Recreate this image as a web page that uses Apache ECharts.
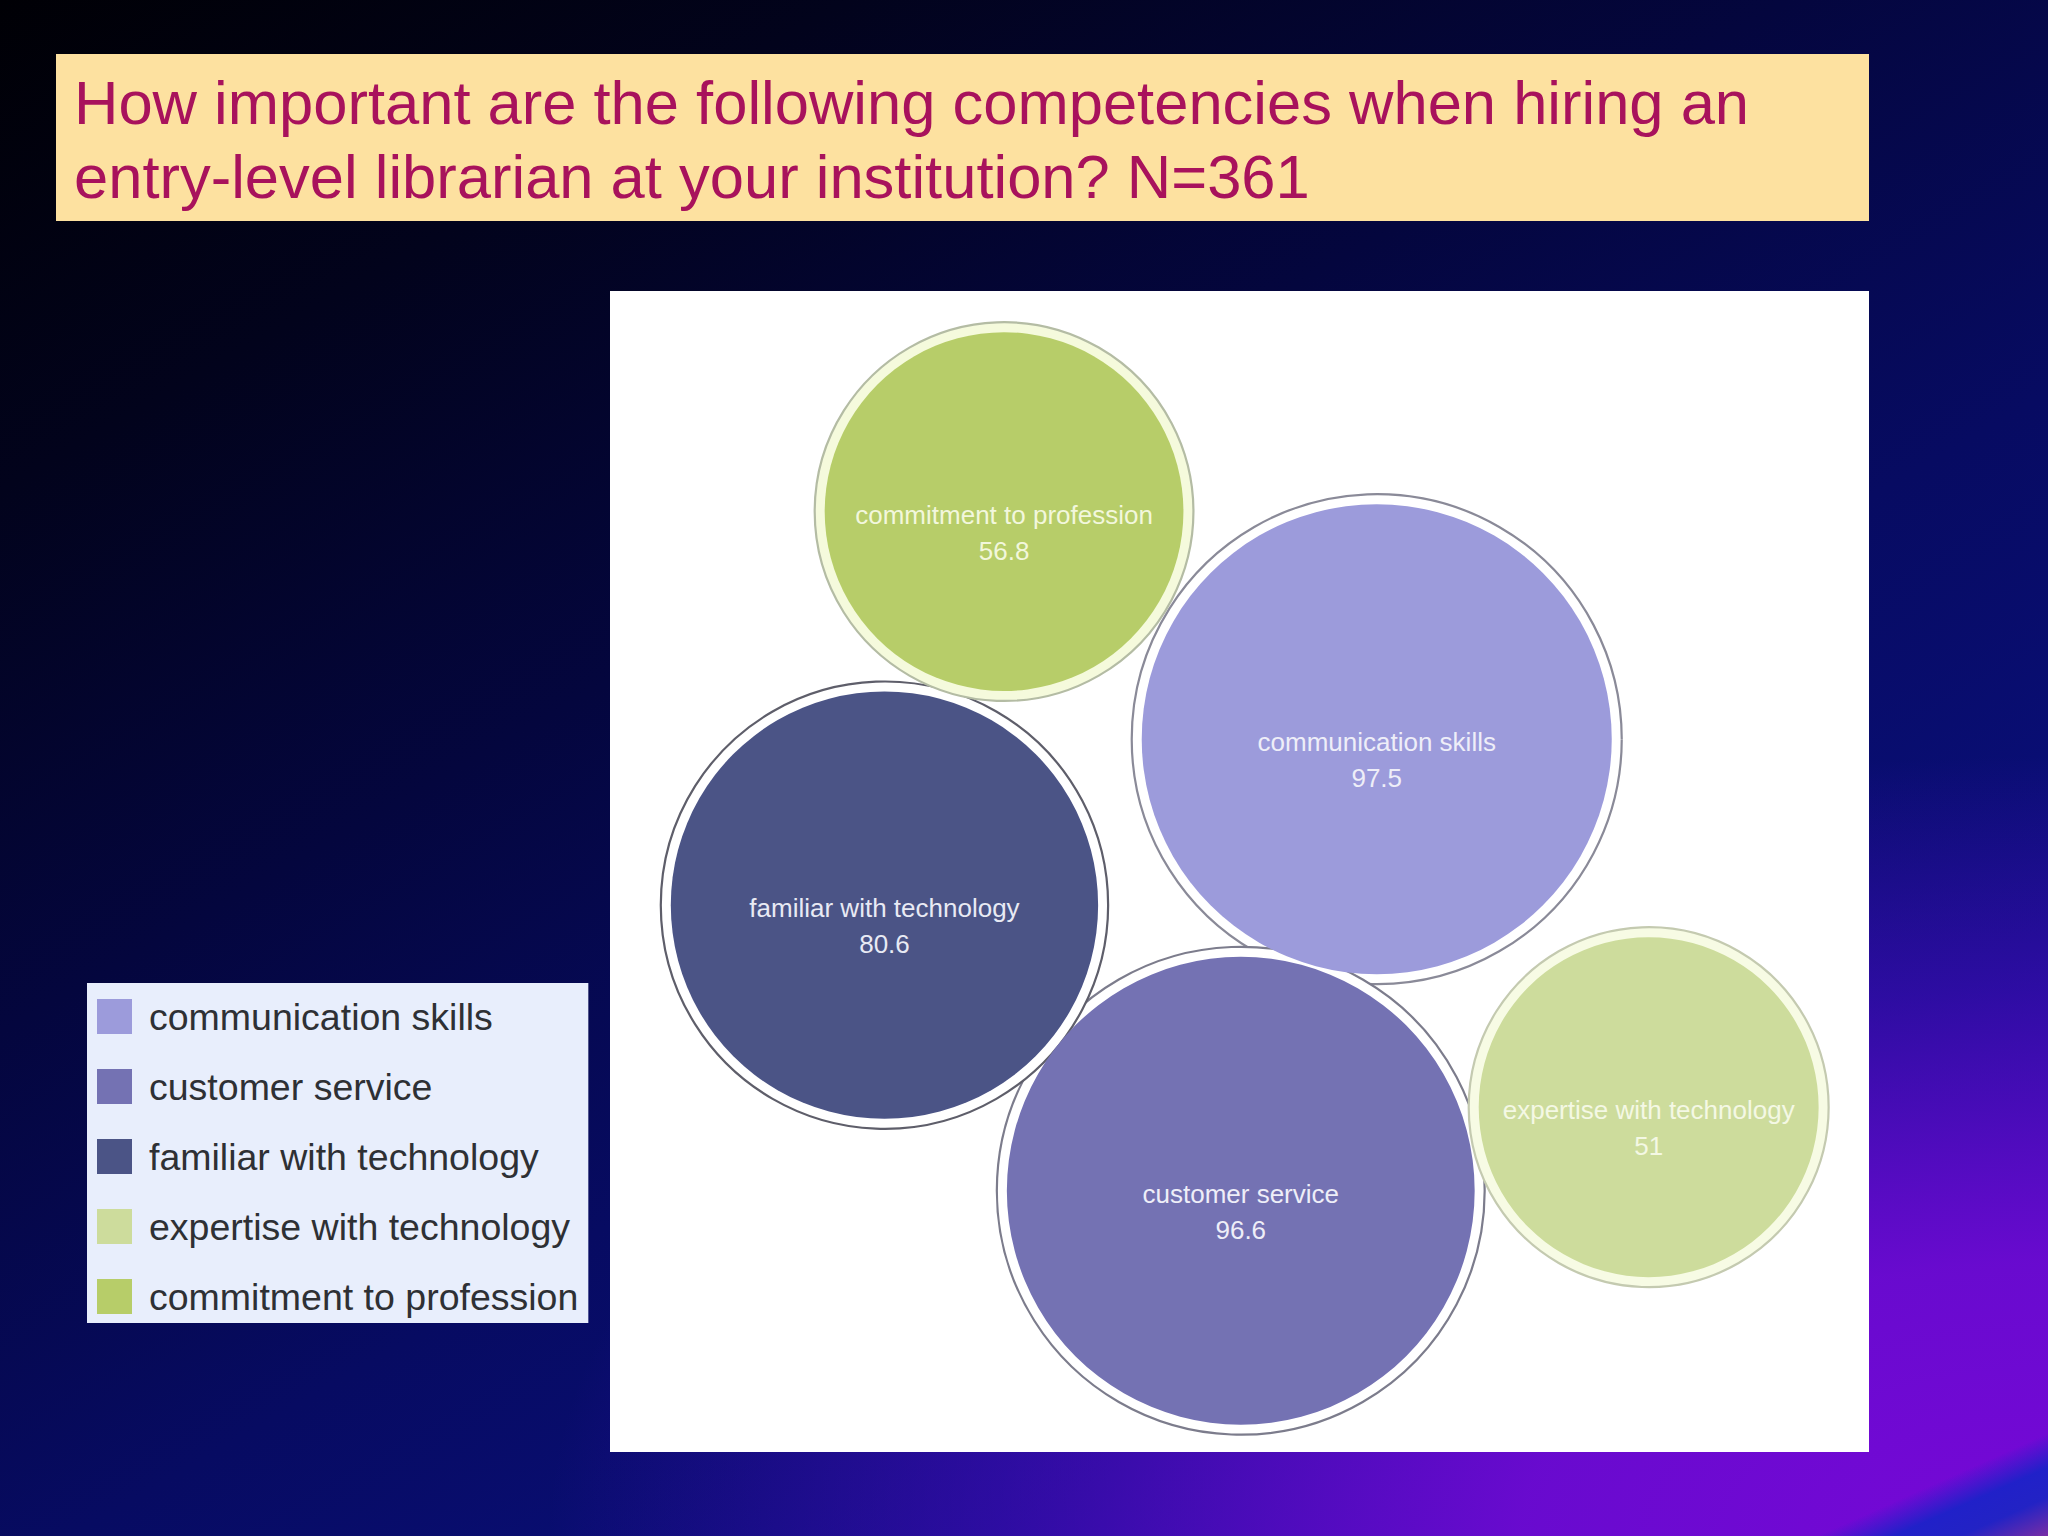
<!DOCTYPE html>
<html>
<head>
<meta charset="utf-8">
<script src="https://cdn.jsdelivr.net/npm/echarts@6/dist/echarts.min.js"></script>
<style>
  html, body { margin: 0; padding: 0; width: 2048px; height: 1536px; overflow: hidden; }
  body {
    background:
      linear-gradient(156deg, rgba(0,0,0,0) 95.8%, rgba(28,34,200,0.95) 97.2%, rgba(30,36,196,0.95) 98.4%, rgba(120,50,160,0.9) 100%),
      radial-gradient(ellipse 1500px 780px at 100% 100%, rgba(118,8,214,1) 0%, rgba(112,10,212,0.92) 35%, rgba(80,10,200,0.5) 70%, rgba(40,10,170,0) 100%),
      linear-gradient(150deg, #000005 0%, #02031c 18%, #04063e 38%, #070b62 58%, #0a0f7c 78%, #1a10a8 100%);
  }
  #chart { width: 2048px; height: 1536px; }
</style>
</head>
<body>
<div id="chart"></div>
<script>
// ---- data ----
const categories = ['communication skills', 'customer service', 'familiar with technology', 'expertise with technology', 'commitment to profession'];
const values = [97.5, 96.6, 80.6, 51, 56.8];
// bubble centre positions (percent of the plot panel)
const xPos = [60.9, 50.1, 21.8, 82.5, 31.3];
const yPos = [61.4, 22.5, 47.1, 29.7, 81.0];
const titleLines = ['How important are the following competencies when hiring an', 'entry-level librarian at your institution? N=361'];

// ---- styles ----
const fillColors = ['#9c9bdb', '#7472b3', '#4b5486', '#cddc9c', '#b7cd69'];
const haloFills = ['#ffffff', '#ffffff', '#ffffff', '#f7fbe4', '#f5fadc'];
const ringColors = ['#8a8a98', '#7c7c8c', '#5e5e6a', '#c4cab0', '#b4bca4'];
const labelColors = ['#eeeef8', '#eeeef8', '#e8eaf4', '#f4f8e4', '#f2f7dc'];
const K = 23.8;      // px per sqrt(value) -> bubble radius (area proportional)
const GAP = 10;      // halo ring gap

const chart = echarts.init(document.getElementById('chart'), null, { renderer: 'svg' });

const series = [];
categories.forEach((c, i) => {
  series.push({
    type: 'scatter',
    name: '__ring' + i,
    silent: true,
    z: 1,
    data: [[xPos[i], yPos[i], values[i]]],
    symbolSize: d => 2 * (K * Math.sqrt(d[2]) + GAP),
    itemStyle: { color: haloFills[i], borderColor: ringColors[i], borderWidth: 2.2, opacity: 1 },
    emphasis: { disabled: true }
  });
});
categories.forEach((c, i) => {
  series.push({
    type: 'scatter',
    name: c,
    z: 2,
    data: [{ name: c, value: [xPos[i], yPos[i], values[i]] }],
    symbolSize: d => 2 * K * Math.sqrt(d[2]),
    itemStyle: { color: fillColors[i], opacity: 1 },
    label: {
      show: true,
      position: 'inside',
      offset: [0, 21],
      formatter: p => p.name + '\n' + p.value[2],
      fontFamily: 'Liberation Sans, Arial, sans-serif',
      fontSize: 26,
      lineHeight: 36,
      color: labelColors[i]
    },
    emphasis: { disabled: true }
  });
});

chart.setOption({
  backgroundColor: 'transparent',
  animation: false,
  grid: {
    left: 610, top: 291, width: 1259, height: 1161,
    show: true, backgroundColor: '#ffffff', borderWidth: 0
  },
  xAxis: { type: 'value', min: 0, max: 100, show: false },
  yAxis: { type: 'value', min: 0, max: 100, show: false },
  legend: {
    data: categories,
    orient: 'vertical',
    left: 87, top: 983,
    padding: [14, 10, 7, 10],
    backgroundColor: '#e8eefc',
    icon: 'rect',
    itemWidth: 35, itemHeight: 35, itemGap: 31,
    selectedMode: false,
    textStyle: {
      fontFamily: 'Liberation Sans, Arial, sans-serif',
      fontSize: 37.5,
      lineHeight: 35,
      color: '#2e3034',
      padding: [4, 0, 0, 12]
    }
  },
  graphic: [
    { type: 'rect', left: 56, top: 54, shape: { width: 1813, height: 167 }, style: { fill: '#fde1a0' }, z: 10 },
    { type: 'text', x: 74, y: 102, style: { text: titleLines[0], font: '61.5px "Liberation Sans", Arial, sans-serif', fill: '#a8125c', verticalAlign: 'middle' }, z: 11 },
    { type: 'text', x: 74, y: 176, style: { text: titleLines[1], font: '61.5px "Liberation Sans", Arial, sans-serif', fill: '#a8125c', verticalAlign: 'middle' }, z: 11 }
  ],
  series: series
});
</script>
</body>
</html>
